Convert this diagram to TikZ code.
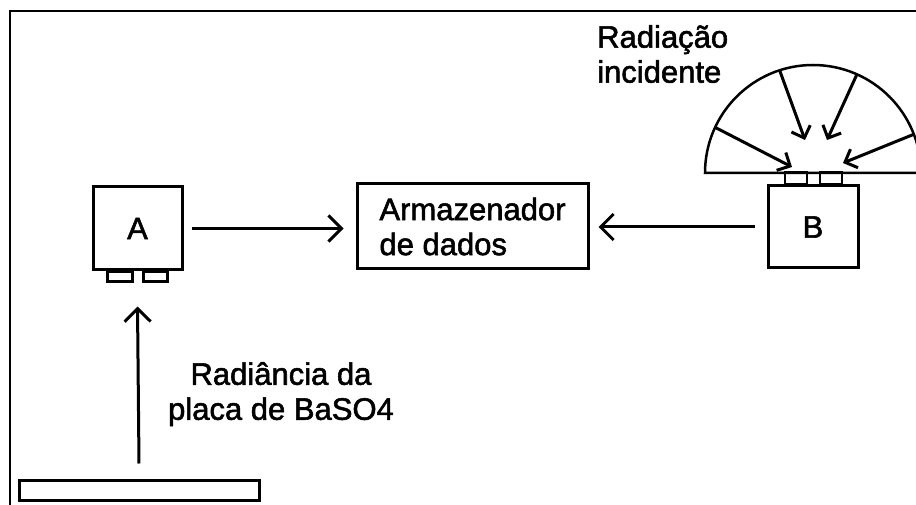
\documentclass[tikz,border=0pt]{standalone}
\usepackage{fontspec}
\setmainfont[FakeBold=1.8]{Liberation Sans}
\usetikzlibrary{arrows.meta,calc}

\tikzset{
  caixa/.style={draw,line width=3pt,inner sep=0pt},
  pe/.style={draw,line width=2.5pt},
  seta/.style={line width=3pt,-{Straight Barb[length=13pt,width=26pt]}},
  raio/.style={line width=3pt,-{Straight Barb[length=10pt,width=20pt]}},
  rotulo/.style={font=\fontsize{31}{35}\selectfont,inner sep=0pt}
}

\begin{document}
\begin{tikzpicture}[x=1pt,y=-1pt]
\useasboundingbox (0,0) rectangle (916,505);
\clip (0,0) rectangle (916,505);

\draw[line width=2.5pt] (10,505) -- (10,11) -- (916,11);

\node[caixa,rotulo,minimum width=89pt,minimum height=83pt] (A) at (137.5,228.5) {A};
\node[caixa,rotulo,minimum width=90pt,minimum height=82pt] (B) at (813,227) {B};
\node[caixa,rotulo,align=left,minimum width=231pt,minimum height=85pt] (D) at (472.5,226.5) {Armazenador\\de dados};
\node[caixa,minimum width=240pt,minimum height=20pt] (P) at (139,490) {};

\draw[pe] ([xshift=-30pt]A.south) rectangle ++(25,10);
\draw[pe] ([xshift=6pt]A.south) rectangle ++(24,10);
\draw[pe] ([xshift=-28pt]B.north) rectangle ++(22,-12);
\draw[pe] ([xshift=7pt]B.north) rectangle ++(22,-12);

\coordinate (c) at (813,173);
\draw[line width=2.5pt] ($(c)+(-108,0)$) arc[start angle=180,end angle=360,radius=108] -- cycle;
\foreach \a/\ex/\ey [count=\i] in {155/-21/-6, 108/-8/-33, 66/14/-33, 21/30/-10}{
  \coordinate (r\i) at ($(c)+(-\a:108)$);
  \coordinate (s\i) at ($(c)+(\ex,\ey)$);
  \draw[raio] (r\i) -- (s\i);
}

\node[rotulo,align=left,anchor=north west] (Ri) at (597,25) {Radiação\\incidente};
\node[rotulo,align=center,anchor=north] (Rp) at (281,362) {Radiância da\\placa de BaSO4};

\draw[seta] ([xshift=8pt]A.east) -- ($(D.west |- A.east)+(-12,0)$);
\draw[seta] ([xshift=-12pt]B.west) -- ($(D.east |- B.west)+(9,0)$);
\draw[seta] ([yshift=15pt]P.north) -- ([yshift=-35pt]A.south);
\end{tikzpicture}
\end{document}
